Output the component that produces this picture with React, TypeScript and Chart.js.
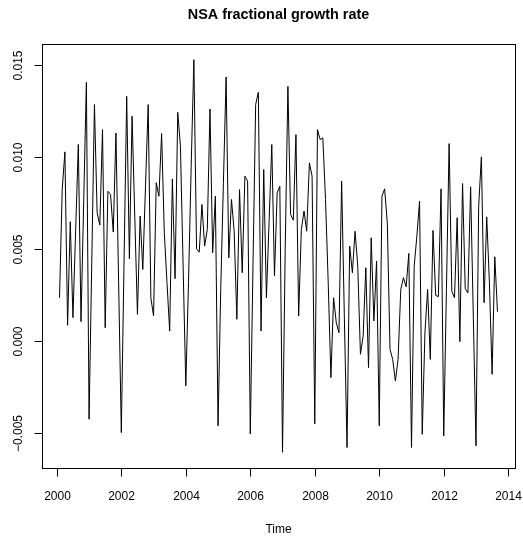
import React, { useEffect, useRef } from "react";
import { Chart, registerables } from "chart.js";

Chart.register(...registerables);

// Monthly NSA fractional growth rate, Feb 2000 .. Sep 2013
const startYear = 2000;
const startMonth = 1; // months after January of startYear
const rates: number[] = [
  0.00235, 0.00823, 0.01028, 0.00085, 0.00648, 0.00127, 0.00597, 0.01068, 0.00105, 0.00756,
  0.01406, -0.00425, 0.00425, 0.01285, 0.00697, 0.0063, 0.01149, 0.00072, 0.00814, 0.00796,
  0.00592, 0.01131, 0.00317, -0.00498, 0.00416, 0.0133, 0.00447, 0.01222, 0.00679, 0.00145,
  0.00679, 0.00389, 0.00841, 0.01285, 0.00235, 0.00136, 0.0086, 0.00787, 0.01128, 0.00588,
  0.00317, 0.00054, 0.00881, 0.00339, 0.01243, 0.01059, 0.00407, -0.00244, 0.00317, 0.0095,
  0.01529, 0.00501, 0.00483, 0.00742, 0.00516, 0.00606, 0.01261, 0.0048, 0.00787, -0.00461,
  0.0028, 0.0086, 0.01435, 0.00452, 0.00769, 0.00597, 0.00118, 0.00823, 0.00371, 0.00896,
  0.00869, -0.00505, 0.00407, 0.01285, 0.01352, 0.00054, 0.00932, 0.00235, 0.00651, 0.01068,
  0.00353, 0.00805, 0.00841, -0.00605, 0.00498, 0.01384, 0.00688, 0.00657, 0.01122, 0.00136,
  0.00606, 0.00706, 0.00597, 0.00968, 0.00896, -0.0045, 0.01149, 0.01095, 0.01104, 0.00769,
  0.00317, -0.00199, 0.00235, 0.001, 0.00045, 0.00869, 0.00136, -0.00579, 0.00516, 0.00371,
  0.00597, 0.00407, -0.00072, 0.00027, 0.00398, -0.00145, 0.00561, 0.00109, 0.00434, -0.00461,
  0.00787, 0.00827, 0.00642, -0.00045, -0.001, -0.00217, -0.001, 0.0028, 0.00344, 0.00295,
  0.00476, -0.00579, 0.00407, 0.0057, 0.0076, -0.00507, 0.00045, 0.0028, -0.001, 0.00601,
  0.00248, 0.00241, 0.00827, -0.00516, 0.0028, 0.01073, 0.00271, 0.00235, 0.0067, -0.00004,
  0.00856, 0.00284, 0.00262, 0.00838, 0.00136, -0.0057, 0.00733, 0.01001, 0.00208, 0.00675,
  0.00317, -0.00181, 0.00458, 0.00159,
];

const xTicks: number[] = [2000, 2002, 2004, 2006, 2008, 2010, 2012, 2014];
const yTicks: number[] = [-0.005, 0, 0.005, 0.01, 0.015];
const yTickLabels: string[] = ["\u22120.005", "0.000", "0.005", "0.010", "0.015"];

const titleText = "NSA fractional growth rate";
const xAxisTitle = "Time";

const W = 523;
const H = 537;
const FONT = '"Liberation Sans", Arial, Helvetica, sans-serif';

// Base-graphics style range: data range padded by 4% on each side
function paddedRange(lo: number, hi: number): [number, number] {
  const d = (hi - lo) * 0.04;
  return [lo - d, hi + d];
}

export default function App() {
  const canvasRef = useRef<HTMLCanvasElement | null>(null);

  useEffect(() => {
    const canvas = canvasRef.current;
    if (!canvas) return;

    const points = rates.map((v, i) => ({ x: startYear + (startMonth + i) / 12, y: v }));
    const [xMin, xMax] = paddedRange(points[0].x, points[points.length - 1].x);
    const [yMin, yMax] = paddedRange(Math.min(...rates), Math.max(...rates));

    const frame = {
      id: "baseFrame",
      afterDraw(chart: any) {
        const { ctx, chartArea } = chart;
        const xs = chart.scales.x;
        const ys = chart.scales.y;
        const { left, right, top, bottom } = chartArea;
        ctx.save();
        ctx.strokeStyle = "#000";
        ctx.fillStyle = "#000";
        ctx.lineWidth = 1;

        // plot box
        ctx.strokeRect(Math.round(left) + 0.5, Math.round(top) + 0.5,
          Math.round(right - left), Math.round(bottom - top));

        // x axis ticks and labels
        ctx.font = `12px ${FONT}`;
        ctx.textAlign = "center";
        ctx.textBaseline = "alphabetic";
        const yb = Math.round(bottom) + 0.5;
        xTicks.forEach((t) => {
          const px = Math.round(xs.getPixelForValue(t)) + 0.5;
          ctx.beginPath();
          ctx.moveTo(px, yb);
          ctx.lineTo(px, yb + 8);
          ctx.stroke();
          ctx.fillText(String(t), px, 499.5);
        });

        // y axis ticks and rotated labels
        const xl = Math.round(left) + 0.5;
        yTicks.forEach((t, k) => {
          const py = Math.round(ys.getPixelForValue(t)) + 0.5;
          ctx.beginPath();
          ctx.moveTo(xl, py);
          ctx.lineTo(xl - 8, py);
          ctx.stroke();
          ctx.save();
          ctx.translate(21.5, py);
          ctx.rotate(-Math.PI / 2);
          ctx.fillText(yTickLabels[k], 0, 0);
          ctx.restore();
        });

        // axis title and main title
        const cx = (left + right) / 2;
        ctx.fillText(xAxisTitle, cx, 533);
        ctx.font = `bold 14.4px ${FONT}`;
        ctx.fillText(titleText, cx, 19);
        ctx.restore();
      },
    };

    const chart = new Chart(canvas, {
      type: "line",
      data: {
        datasets: [
          {
            data: points,
            borderColor: "#000",
            borderWidth: 1,
            pointRadius: 0,
            tension: 0,
            fill: false,
          },
        ],
      },
      options: {
        animation: false,
        responsive: false,
        maintainAspectRatio: false,
        layout: { padding: { left: 42, right: 8, top: 44, bottom: 69 } },
        plugins: {
          legend: { display: false },
          tooltip: { enabled: false },
          title: { display: false },
        },
        scales: {
          x: { type: "linear", min: xMin, max: xMax, display: false },
          y: { type: "linear", min: yMin, max: yMax, display: false },
        },
      },
      plugins: [frame],
    });

    return () => chart.destroy();
  }, []);

  return (
    <div style={{ position: "fixed", left: 0, top: 0, width: W, height: H, background: "#fff" }}>
      <canvas ref={canvasRef} width={W} height={H} style={{ display: "block", width: W, height: H }} />
    </div>
  );
}
